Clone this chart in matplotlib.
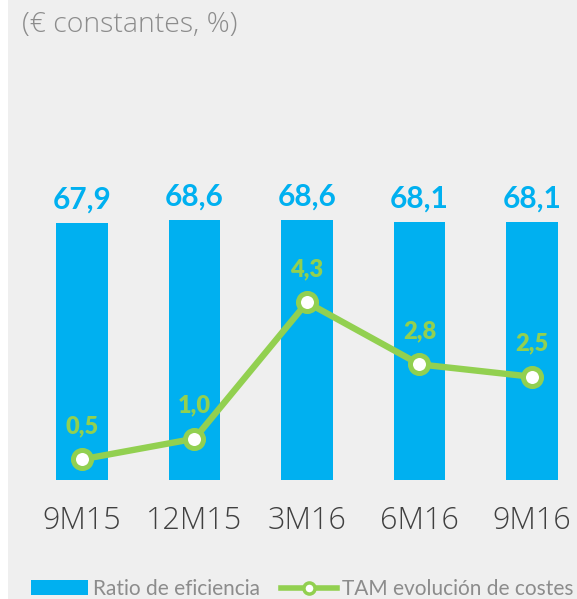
import matplotlib.pyplot as plt
from matplotlib.lines import Line2D
from matplotlib.patches import Patch

# datos
periodos = ["9M15", "12M15", "3M16", "6M16", "9M16"]
ratio_eficiencia = [67.9, 68.6, 68.6, 68.1, 68.1]
tam_costes = [0.5, 1.0, 4.3, 2.8, 2.5]

azul = "#00b0f0"
verde = "#92d050"
gris_texto = "#8c8c8c"
fuente = "Lato"

W, H = 577, 599
fig = plt.figure(figsize=(W / 100, H / 100), dpi=100)
fig.patch.set_facecolor("white")

# fondo gris
fondo = fig.add_axes([8 / W, 0, 1 - 8 / W, 1], zorder=-1)
fondo.set_facecolor("#efefef")
fondo.set_xticks([])
fondo.set_yticks([])
for s in fondo.spines.values():
    s.set_visible(False)

# eje: base en y=480 px, arriba en y=0
ax = fig.add_axes([8 / W, (H - 480) / H, 1 - 8 / W, 480 / H])
ax.set_facecolor("none")
x = list(range(len(periodos)))
ax.bar(x, ratio_eficiencia, width=0.46, color=azul, zorder=2)
ax.set_xlim((8 - 82) / 112.5, (577 - 82) / 112.5)
ax.set_ylim(0, 480 / 3.79)
for xi, v in zip(x, ratio_eficiencia):
    ax.annotate(f"{v:.1f}".replace(".", ","), (xi, v), xytext=(0, 16.5),
                textcoords="offset points", ha="center", va="center",
                fontsize=21.5, fontweight="bold", color=azul, family=fuente)

ax2 = ax.twinx()
ax2.set_ylim(0, 480 / 41.3)
ax2.plot(x, tam_costes, color=verde, lw=4.6, marker="o", ms=13,
         mfc="white", mec=verde, mew=3.6, zorder=3)
for xi, v in zip(x, tam_costes):
    ax2.annotate(f"{v:.1f}".replace(".", ","), (xi, v), xytext=(0, 24),
                 textcoords="offset points", ha="center", va="center",
                 fontsize=17, fontweight="heavy", color=verde, family=fuente)

for a in (ax, ax2):
    for s in a.spines.values():
        s.set_visible(False)
    a.set_yticks([])
ax.set_xticks(x)
ax.set_xticklabels(periodos, fontsize=22, color="#404040",
                   family="Open Sans", fontweight="light")
ax.tick_params(axis="x", length=0, pad=18)

fig.text(22 / W, 1 - 25 / H, "(€ constantes, %)", fontsize=20.5,
         color=gris_texto, family="Open Sans", fontweight="light",
         va="center", ha="left")

handles = [Patch(facecolor=azul, edgecolor="none"),
           Line2D([], [], color=verde, lw=4, marker="o", ms=8, mfc="white",
                  mec=verde, mew=2.5)]
leg = fig.legend(handles, ["Ratio de eficiencia", "TAM evolución de costes"],
                 loc="center left", bbox_to_anchor=(23 / W, 1 - 589 / H), ncol=2,
                 frameon=False, handlelength=2.7, handleheight=0.75,
                 handletextpad=0.25, columnspacing=1.0, borderaxespad=0,
                 prop={"family": fuente, "size": 15}, labelcolor=gris_texto)

fig.savefig("out.png", dpi=100)
